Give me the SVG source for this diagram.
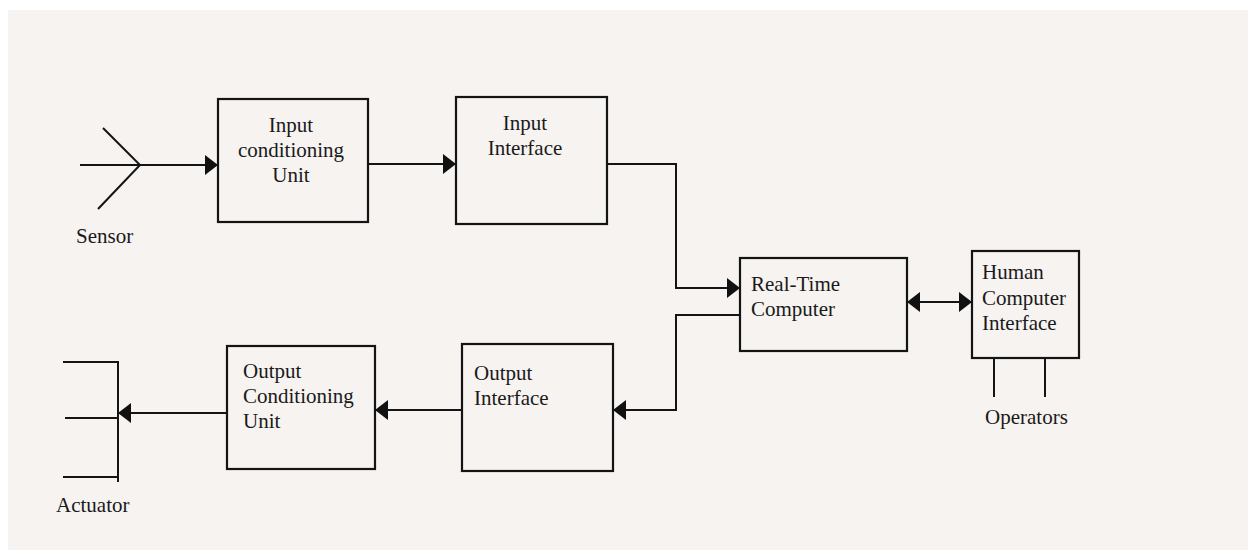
<svg xmlns="http://www.w3.org/2000/svg" width="1248" height="550" viewBox="0 0 1248 550">
<style>
.box{fill:none;stroke:#141414;stroke-width:2.2}
.ln{fill:none;stroke:#141414;stroke-width:2}
text{font-family:"Liberation Serif","Times New Roman",serif;font-size:21px;fill:#1a1a1a}
.c{text-anchor:middle}
</style>
<defs>
<marker id="ah" viewBox="0 0 13 20" refX="13" refY="10" markerWidth="13" markerHeight="20" markerUnits="userSpaceOnUse" orient="auto-start-reverse">
<path d="M0,0 L13,10 L0,20 Z" fill="#111"/>
</marker>
</defs>
<rect x="0" y="0" width="1248" height="550" fill="#ffffff"/>
<rect x="8" y="10" width="1240" height="540" fill="#f6f3f1"/>

<g id="sensor">
<path class="ln" d="M80,165 L140,165 M103,128 L140,165 L98,209"/>
<text x="76" y="243">Sensor</text>
</g>

<g id="input-conditioning">
<rect class="box" x="218" y="99" width="150" height="123"/>
<text class="c" x="291" y="132">Input</text>
<text class="c" x="291" y="157">conditioning</text>
<text class="c" x="291" y="182">Unit</text>
</g>

<g id="input-interface">
<rect class="box" x="456" y="97" width="151" height="127"/>
<text class="c" x="525" y="130">Input</text>
<text class="c" x="525" y="155">Interface</text>
</g>

<g id="real-time-computer">
<rect class="box" x="740" y="258" width="167" height="93"/>
<text x="751" y="291">Real-Time</text>
<text x="751" y="316">Computer</text>
</g>

<g id="hci">
<rect class="box" x="972" y="251" width="107" height="107"/>
<text x="982" y="279">Human</text>
<text x="982" y="305">Computer</text>
<text x="982" y="330">Interface</text>
</g>

<g id="operators">
<path class="ln" d="M994,358 L994,397 M1045,358 L1045,397"/>
<text x="985" y="424">Operators</text>
</g>

<g id="output-interface">
<rect class="box" x="462" y="344" width="151" height="127"/>
<text x="474" y="380">Output</text>
<text x="474" y="405">Interface</text>
</g>

<g id="output-conditioning">
<rect class="box" x="227" y="346" width="148" height="123"/>
<text x="243" y="378">Output</text>
<text x="243" y="403">Conditioning</text>
<text x="243" y="428">Unit</text>
</g>

<g id="actuator">
<path class="ln" d="M63,362 L118,362 M65,418 L118,418 M63,477 L118,477 M118,361 L118,482"/>
<text x="56" y="512">Actuator</text>
</g>

<g id="connectors">
<path class="ln" d="M140,165 L218,165" marker-end="url(#ah)"/>
<path class="ln" d="M368,164 L456,164" marker-end="url(#ah)"/>
<path class="ln" d="M607,164 L676,164 L676,288 L740,288" marker-end="url(#ah)"/>
<path class="ln" d="M740,315 L676,315 L676,410 L613,410" marker-end="url(#ah)"/>
<path class="ln" d="M907,302 L972,302" marker-start="url(#ah)" marker-end="url(#ah)"/>
<path class="ln" d="M462,410 L375,410" marker-end="url(#ah)"/>
<path class="ln" d="M227,413 L118,413" marker-end="url(#ah)"/>
</g>
</svg>
